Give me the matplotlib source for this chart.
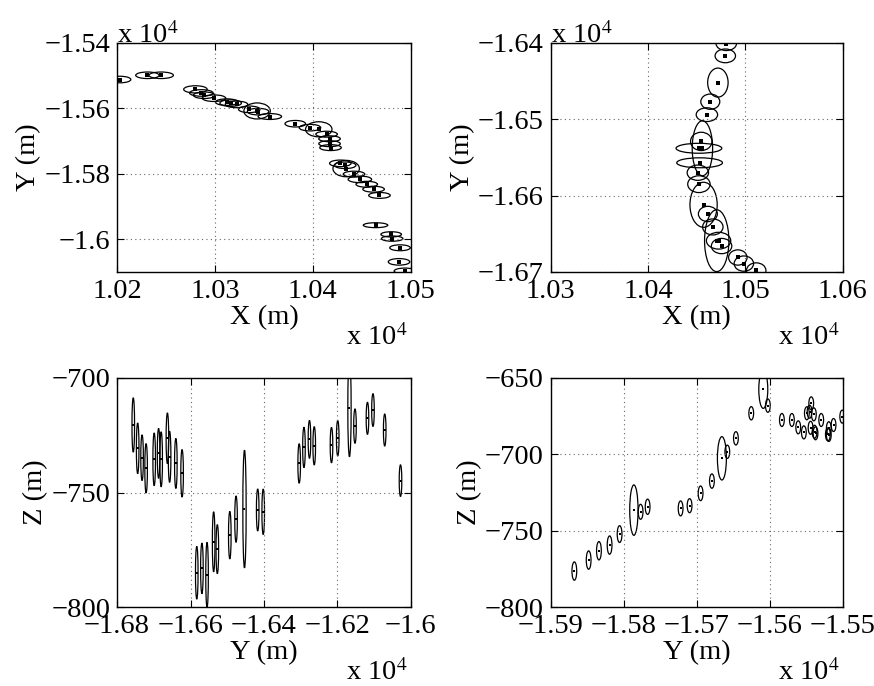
import numpy as np
import matplotlib
matplotlib.use("Agg")
import matplotlib.pyplot as plt
from matplotlib.patches import Ellipse
from matplotlib.ticker import FuncFormatter

# panel 1 : X-Y (top left)
p1_x = [10203, 10231, 10245, 10280, 10286, 10289, 10299, 10312, 10316, 10322,
        10335, 10343, 10344, 10356, 10382, 10397, 10406, 10414, 10417, 10417,
        10418, 10428, 10433, 10434, 10442, 10448, 10455, 10462, 10468, 10464,
        10480, 10481, 10489, 10488, 10494]
p1_y = [-15512, -15499, -15499, -15542, -15553, -15560, -15569, -15581, -15584, -15588,
        -15603, -15608, -15610, -15625, -15647, -15659, -15664, -15679, -15693, -15708,
        -15720, -15768, -15774, -15784, -15801, -15817, -15832, -15847, -15866, -15957,
        -15985, -15998, -16026, -16069, -16097]
p1_w = [22, 24, 25, 24, 24, 22, 24, 23, 22, 23, 22, 27, 22, 24, 21, 22, 27, 22, 22, 22,
        22, 22, 22, 27, 22, 24, 22, 22, 22, 25, 21, 22, 21, 22, 22]
p1_h = [20, 20, 20, 22, 20, 20, 20, 20, 20, 20, 20, 49, 20, 18, 20, 20, 46, 18, 18, 18,
        18, 20, 20, 50, 18, 20, 18, 18, 18, 15, 16, 16, 18, 20, 18]

# panel 2 : X-Y (top right)
p2_x = [10480.5, 10479.5, 10471.9, 10464.1, 10460.6, 10454.8, 10456, 10452.4, 10453.1, 10451.3,
        10452.4, 10457.2, 10461.6, 10466.7, 10472.6, 10470.7, 10475.7, 10492.4, 10498.6, 10511.3]
p2_y = [-16401, -16417, -16452, -16477, -16494, -16529, -16538, -16538, -16557, -16570,
        -16585, -16612, -16624, -16641, -16659, -16659, -16666, -16681, -16689, -16698]
p2_w = [21, 21, 21, 19.5, 22, 22, 21, 47, 47, 22, 23, 28, 19.5, 21, 25, 25, 21, 19, 20, 20]
p2_h = [18, 18, 38, 20, 18, 24, 72, 13, 13, 20, 22, 59, 20, 21, 22, 81, 20, 20, 20, 20]

# panel 3 : Y-Z (bottom left)
p3_y = [-16756, -16744, -16732, -16721, -16699, -16687, -16680, -16663, -16657, -16640,
        -16623, -16583, -16569, -16555, -16537, -16527, -16493, -16476, -16453, -16417,
        -16402, -16304, -16291, -16276, -16263, -16216, -16199, -16167, -16152, -16118,
        -16103, -16071, -16028]
p3_z = [-720.5, -730.7, -734.8, -739.4, -735.5, -732.9, -735.5, -726.3, -734.4, -737.3,
        -741.6, -785, -783.1, -786, -771.5, -774.7, -768.6, -761.6, -757.2, -757.6,
        -758.4, -737.3, -730.3, -726.8, -729.6, -729.3, -726.3, -713, -721, -717.6,
        -714, -722.7, -744.8]
p3_w = [7, 7, 7, 7, 7, 7, 7, 7, 7, 7, 7, 7, 7, 7, 7, 7, 7, 7, 9, 7,
        7, 7, 7, 7, 7, 7, 7, 9, 7, 7, 7, 7, 7]
p3_h = [23.7, 22.1, 19.9, 21.5, 23, 21.8, 24, 22.1, 22.3, 21.8,
        20.7, 23, 22.1, 28.5, 26.2, 21.4, 20.7, 20.2, 51.4, 18.3,
        19.8, 17.2, 17.6, 16.5, 16.7, 15.4, 15.4, 42.8, 15, 14,
        14.3, 14, 13.8]

# panel 4 : Y-Z (bottom right)
p4_y = [-15867.5, -15847.9, -15833.8, -15819.2, -15805.5, -15785.9, -15776.7, -15767.1, -15721.9, -15709.6,
        -15694.5, -15679, -15665.3, -15657.9, -15646.1, -15625.1, -15608.6, -15602.3, -15583.1, -15569.4,
        -15560.7, -15553, -15548.9, -15545.2, -15542.9, -15543.8, -15539.3, -15538.3, -15537, -15529.2,
        -15520.1, -15518.8, -15512.3, -15500.4, -15518.8]
p4_z = [-776.4, -769.2, -763.1, -759.4, -752.2, -736.5, -737.6, -734.3, -735.4, -733.6,
        -725.5, -717.5, -702.6, -698.3, -689.5, -673.1, -657.4, -668.1, -677.5, -677.5,
        -682.3, -685.6, -673.1, -672.1, -666.6, -682.6, -673.8, -685.2, -686.2, -677.5,
        -686.9, -682.9, -680.8, -675.3, -687.3]
p4_w = [6.5, 6.5, 6.5, 6.5, 6.5, 11.4, 6.5, 6.5, 6.5, 6.5,
        6.5, 6.5, 12.3, 6.5, 6.5, 6.5, 12.3, 6.5, 6.5, 6.5,
        6.5, 6.5, 6.5, 6.5, 6.5, 6.5, 6.5, 6.5, 6.5, 6.5,
        6.5, 6.5, 6.5, 6.5, 6.5]
p4_h = [12, 12, 12, 12, 11, 33, 9.8, 10, 9.8, 9.2,
        9.6, 9.4, 28.4, 8.7, 8.7, 8.7, 25, 8.7, 8.5, 8.5,
        8.5, 8.5, 8.5, 8.5, 8.5, 8.5, 8.5, 8.5, 8.5, 8.5,
        8.5, 8.5, 8.5, 8.5, 8.5]

plt.rcParams['font.family'] = ['Liberation Serif', 'DejaVu Serif']
plt.rcParams['mathtext.fontset'] = 'stix'
FS = 20.5


# MATLAB-style tick labels: value / 1e4, trailing zeros dropped
def fmt(v, pos):
    s = '%g' % round(v / 1e4, 4)
    return s.replace('-', '\u2212')


def fmt_plain(v, pos):
    return ('%g' % v).replace('-', '\u2212')


def panel(ax, xs, ys, ws, hs, xlim, ylim, xticks, yticks, xlab, ylab, yscaled, ms):
    for x, y, w, h in zip(xs, ys, ws, hs):
        ax.add_patch(Ellipse((x, y), w, h, fill=False, ec='black', lw=0.9))
    ax.plot(xs, ys, 's', color='black', ms=ms, mew=0)
    ax.set_xlim(xlim)
    ax.set_ylim(ylim)
    ax.set_xticks(xticks)
    ax.set_yticks(yticks)
    ax.xaxis.set_major_formatter(FuncFormatter(fmt))
    ax.yaxis.set_major_formatter(FuncFormatter(fmt if yscaled else fmt_plain))
    ax.grid(True, linestyle=(0, (1, 3)), color='#666666', lw=0.8)
    ax.tick_params(direction='in', top=True, right=True, length=5, width=0.8,
                   labelsize=FS, pad=5)
    for sp in ax.spines.values():
        sp.set_linewidth(1.0)
    ax.set_xlabel(xlab, fontsize=FS, labelpad=1)
    ax.set_ylabel(ylab, fontsize=FS, labelpad=2)
    ax.text(0.99, -0.32, 'x 10$^4$', transform=ax.transAxes, fontsize=FS,
            ha='right', va='baseline')
    if yscaled:
        ax.text(0.0, 1.0, 'x 10$^4$', transform=ax.transAxes, fontsize=FS,
                ha='left', va='baseline')


fig = plt.figure(figsize=(8.74, 6.86), dpi=100)
ax1 = fig.add_axes([0.134, 0.6035, 0.336, 0.334])
ax2 = fig.add_axes([0.630, 0.6035, 0.334, 0.334])
ax3 = fig.add_axes([0.134, 0.115, 0.336, 0.334])
ax4 = fig.add_axes([0.630, 0.115, 0.334, 0.334])

panel(ax1, p1_x, p1_y, p1_w, p1_h, (10200, 10500), (-16100, -15400),
      [10200, 10300, 10400, 10500], [-16000, -15800, -15600, -15400],
      'X (m)', 'Y (m)', True, 2.4)
panel(ax2, p2_x, p2_y, p2_w, p2_h, (10300, 10600), (-16700, -16400),
      [10300, 10400, 10500, 10600], [-16700, -16600, -16500, -16400],
      'X (m)', 'Y (m)', True, 2.4)
panel(ax3, p3_y, p3_z, p3_w, p3_h, (-16800, -16000), (-800, -700),
      [-16800, -16600, -16400, -16200, -16000], [-800, -750, -700],
      'Y (m)', 'Z (m)', False, 1.6)
panel(ax4, p4_y, p4_z, p4_w, p4_h, (-15900, -15500), (-800, -650),
      [-15900, -15800, -15700, -15600, -15500], [-800, -750, -700, -650],
      'Y (m)', 'Z (m)', False, 1.5)

fig.savefig('out.png', dpi=100)
